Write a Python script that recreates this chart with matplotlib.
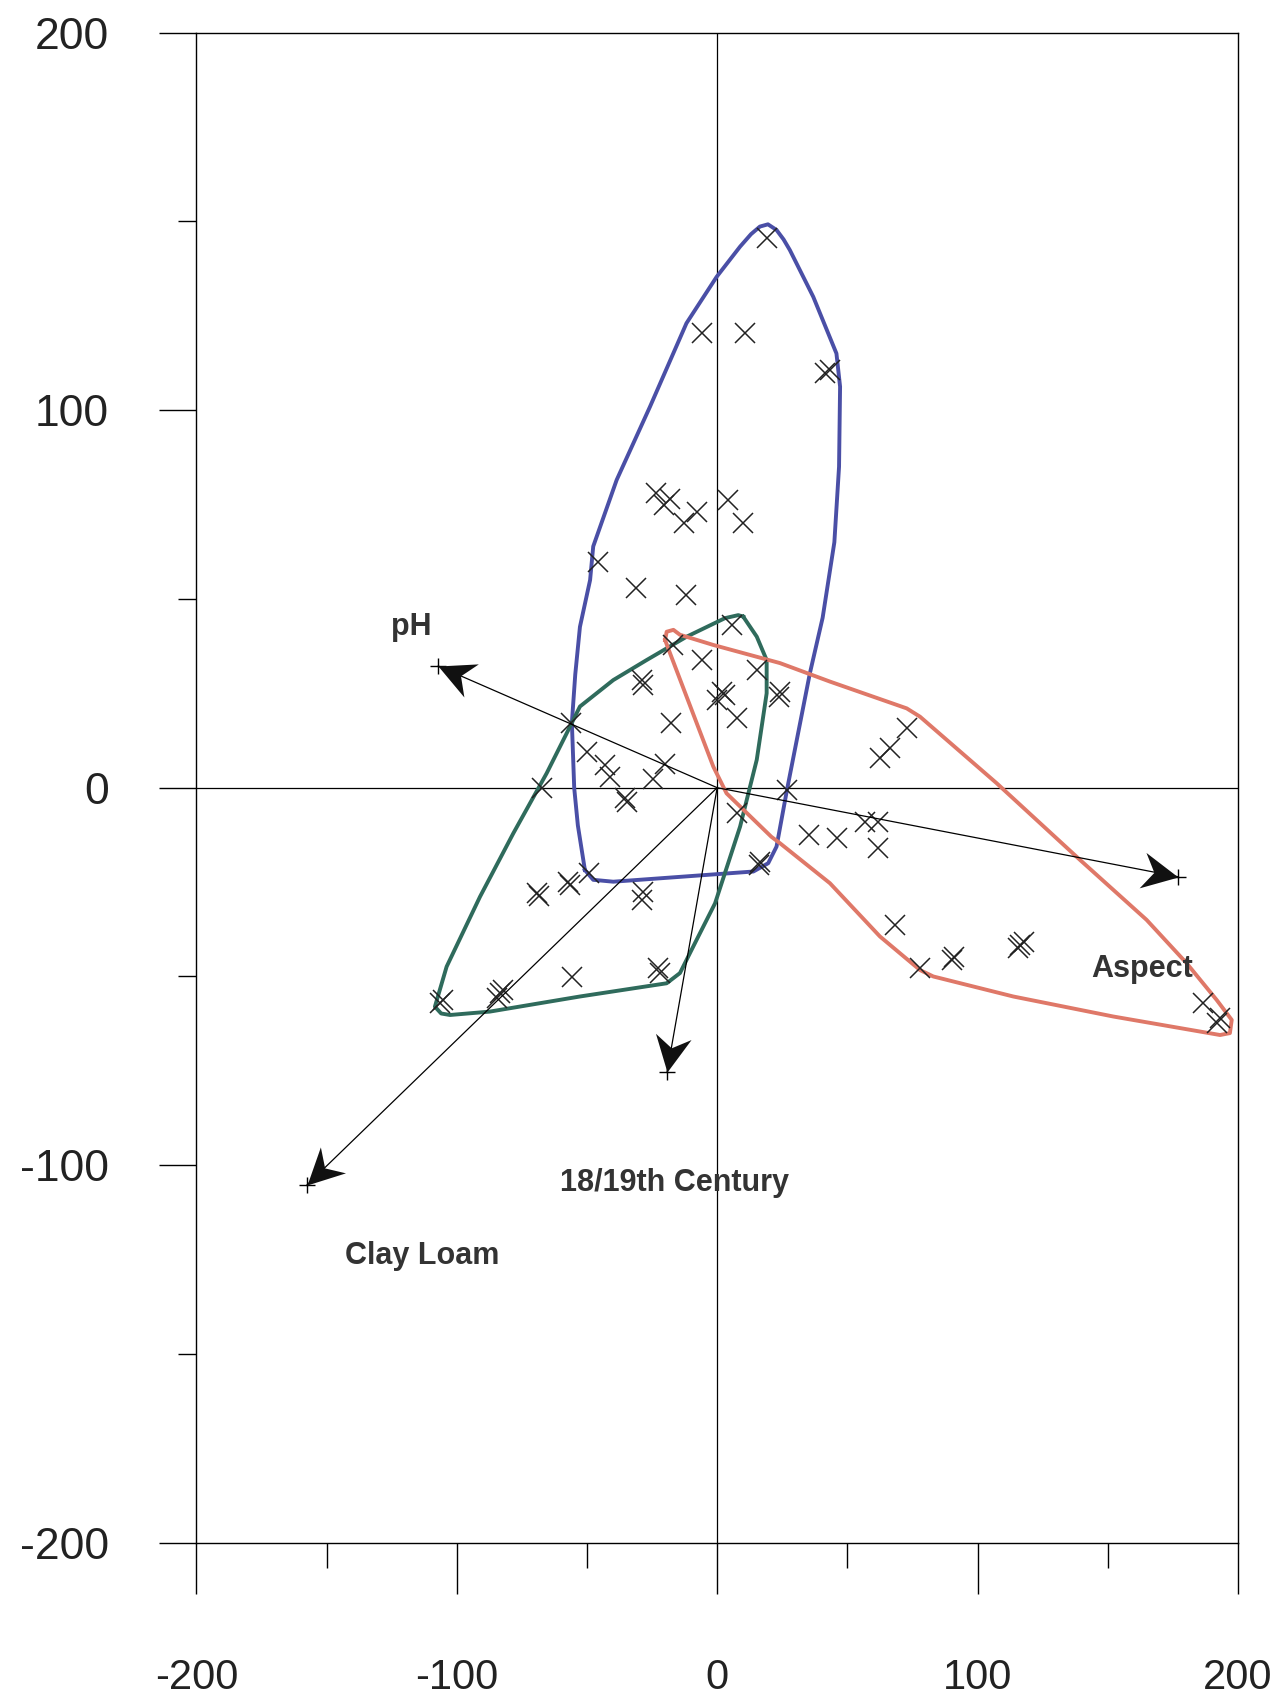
import numpy as np
import matplotlib
matplotlib.use("Agg")
import matplotlib.pyplot as plt
from matplotlib.path import Path
from matplotlib.markers import MarkerStyle
from matplotlib.transforms import Affine2D
from matplotlib.ticker import MultipleLocator

# Site scores (ordination axis 1 / axis 2)
site_x = [19.1, -5.9, 10.5, 41.5, 43.4, -23.4, -18.3, -20.6, -7.8, -12.9, 4.3, 10.1,
          -45.6, -31.1, -11.9, 5.6, -17.0, -5.9, 15.2, -29.0, -28.4, 1.8, 3.1, -0.1,
          24.2, 23.6, 7.6, -17.9, -56.3, -50.0, -43.0, -41.1, -20.0, -24.5, -67.3,
          -35.3, -34.7, 26.8, 7.6, 15.9, 16.5, -49.4, -57.1, -56.5, -69.2, -68.6,
          -28.4, -29.0, -55.9, -22.6, -22.0, -106.4, -105.1, -83.3, -84.6, -82.2,
          72.9, 66.4, 62.6, 35.1, 45.9, 56.8, 61.9, 61.9, 68.3, 77.9, 90.8, 90.2,
          116.4, 115.7, 117.7, 186.7, 193.2, 191.9]
site_y = [145.5, 120.3, 120.3, 109.8, 110.7, 78.1, 76.4, 74.9, 73.1, 70.0, 76.2, 70.2,
          59.9, 52.8, 51.0, 43.1, 37.8, 33.8, 31.2, 28.5, 27.2, 25.4, 24.6, 23.2,
          25.4, 24.1, 18.4, 17.0, 17.0, 9.5, 6.0, 2.9, 6.3, 2.2, -0.2,
          -2.8, -3.7, -0.6, -6.8, -20.5, -19.6, -22.7, -24.9, -25.8, -28.0, -28.8,
          -27.5, -29.7, -50.1, -47.8, -49.2, -57.1, -56.2, -54.5, -55.8, -53.6,
          15.7, 10.4, 7.8, -12.5, -13.4, -9.0, -9.0, -16.0, -36.4, -47.8, -44.8, -45.6,
          -41.7, -42.5, -40.8, -57.1, -61.1, -62.4]

# Hand-drawn group envelopes
blue_x = [-50.8, -53.5, -54.9, -55.8, -54.5, -52.7, -48.8, -47.6, -38.6, -25.8, -11.8,
          -0.2, 8.8, 13.0, 16.4, 19.5, 22.8, 25.5, 27.9, 36.9, 45.8, 47.2, 46.8, 45.0,
          40.5, 35.6, 26.8, 22.8, 19.6, 13.9, -39.9, -47.6]
blue_y = [-21.8, -10.0, -0.1, 17.2, 30.0, 42.6, 55.0, 63.9, 81.5, 100.9, 123.0,
          135.3, 143.3, 146.6, 148.6, 149.2, 147.7, 145.2, 142.4, 130.0, 115.0, 106.2, 85.0, 65.0,
          45.0, 30.3, -0.6, -15.6, -20.0, -22.2, -24.9, -24.4]
green_x = [10.0, 8.1, 3.0, -11.7, -27.1, -39.9, -52.7, -57.8, -65.5, -78.3, -91.1,
           -103.9, -108.4, -106.0, -102.6, -87.3, -52.7, -19.4, -14.3, -7.9, -0.8, 8.8, 15.2,
           19.0, 19.0, 15.2]
green_y = [45.3, 45.7, 44.9, 40.0, 33.8, 28.5, 21.5, 14.4, 3.8, -12.1, -28.9,
           -47.4, -58.0, -59.8, -60.2, -59.3, -55.3, -51.8, -49.1, -40.3, -30.6, -10.3, 7.4,
           25.0, 33.8, 40.0]
red_x = [-20.0, -19.4, -16.8, -14.3, -1.5, 24.1, 43.3, 72.8, 77.9, 107.3, 139.3, 164.9,
         180.3, 191.8, 197.6, 196.9, 193.1, 152.1, 113.7, 83.0, 77.9, 62.5, 43.3, 24.1,
         20.8, 3.6, -1.5, -18.1]
red_y = [39.1, 41.3, 41.8, 40.5, 37.8, 33.0, 28.1, 21.0, 18.8, 1.2, -19.1, -35.0,
         -46.5, -56.2, -61.5, -65.0, -65.5, -60.6, -55.3, -50.0, -48.3, -39.4, -25.3, -14.7,
         -13.0, -1.5, 5.6, 35.6]

# Environmental variable arrows
var_names = ["pH", "Aspect", "18/19th Century", "Clay Loam"]
var_x = [-107.1, 177.1, -19.2, -157.5]
var_y = [32.2, -23.6, -75.2, -105.2]
label_x = [-117.5, 163.0, -16.3, -113.3]
label_y = [42.5, -48.0, -104.6, -124.1]

tick_vals = [-200, -100, 0, 100, 200]

fig = plt.figure(figsize=(12.76, 17.02), dpi=100)
ax = fig.add_axes([0.1539, 0.0935, 0.8163, 0.8874])
ax.set_xlim(-200, 200)
ax.set_ylim(-200, 200)

for s in ax.spines.values():
    s.set_linewidth(1.0)

ax.axhline(0, color="black", lw=0.9, zorder=1)
ax.axvline(0, color="black", lw=0.9, zorder=1)

# envelopes
for hx, hy, col in [(blue_x, blue_y, "#4a4fa6"), (green_x, green_y, "#2f6b5c"),
                    (red_x, red_y, "#df7868")]:
    ax.plot(hx + hx[:1], hy + hy[:1], color=col, lw=2.8,
            solid_joinstyle="round", zorder=2)

# sites
ax.plot(site_x, site_y, "x", color="#222222", ms=14, mew=1.1, zorder=3)

# arrows with barbed heads
head = Path([(0, 0), (-1.0, 0.5), (-0.68, 0), (-1.0, -0.5), (0, 0)],
            [Path.MOVETO, Path.LINETO, Path.LINETO, Path.LINETO, Path.CLOSEPOLY])
o = ax.transData.transform((0, 0))
for vx, vy, name, lx, ly in zip(var_x, var_y, var_names, label_x, label_y):
    ax.plot([0, vx], [0, vy], color="black", lw=0.9, zorder=4)
    ax.plot(vx, vy, "+", color="black", ms=12, mew=1.0, zorder=5)
    p = ax.transData.transform((vx, vy))
    ang = np.degrees(np.arctan2(p[1] - o[1], p[0] - o[0]))
    m = MarkerStyle(head, transform=Affine2D().rotate_deg(ang))
    ax.plot(vx, vy, marker=m, ms=52, color="#111111", mew=0, ls="none", zorder=6)
    ax.text(lx, ly, name, ha="center", va="center", fontsize=22, fontweight="bold",
            family=["Liberation Sans", "DejaVu Sans"], color="#333333", zorder=7)

ax.set_xticks(tick_vals)
ax.set_yticks(tick_vals)
ax.set_xticklabels([str(v) for v in tick_vals],
                   family=["Liberation Sans Narrow", "Liberation Sans", "DejaVu Sans"],
                   fontsize=30, color="#222222")
ax.set_yticklabels([str(v) for v in tick_vals],
                   family=["Liberation Sans", "DejaVu Sans"],
                   fontsize=32, color="#222222")
ax.xaxis.set_minor_locator(MultipleLocator(50))
ax.yaxis.set_minor_locator(MultipleLocator(50))
ax.tick_params(axis="x", which="major", direction="out", length=37, width=1.0, pad=46)
ax.tick_params(axis="x", which="minor", direction="out", length=18, width=1.0)
ax.tick_params(axis="y", which="major", direction="out", length=27, width=1.0, pad=36)
ax.tick_params(axis="y", which="minor", direction="out", length=13, width=1.0)

fig.savefig("out.png", dpi=100)
